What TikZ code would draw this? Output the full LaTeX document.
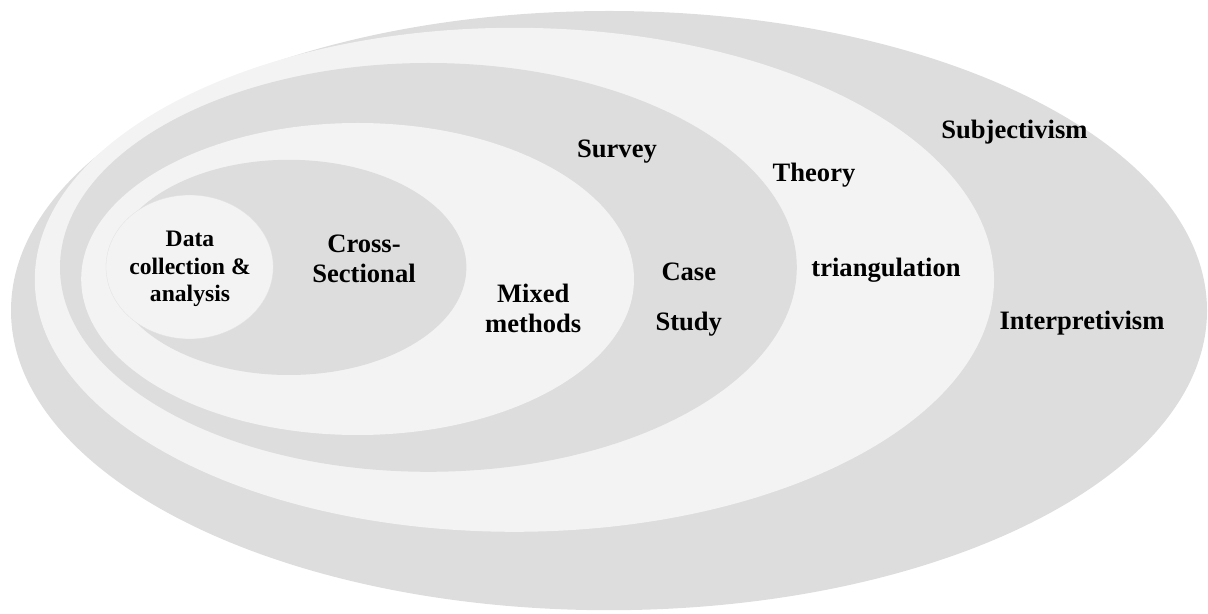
\documentclass[tikz,border=0pt]{standalone}
\usepackage{fontspec}
\setmainfont{Liberation Serif}
\usepackage{tikz}
\definecolor{ringdark}{HTML}{DDDDDD}
\definecolor{ringlight}{HTML}{F3F3F3}

\begin{document}
\begin{tikzpicture}[
	lbl/.style={font=\fontsize{18.9}{21.3}\selectfont\bfseries, inner sep=0pt, align=center},
	lblsmall/.style={font=\fontsize{16.8}{19.5}\selectfont\bfseries, inner sep=0pt, align=center}]
	%\draw[help lines] (0,0) grid (30,15);
	\useasboundingbox (0,0) rectangle (30.2,15.325);
	% rings, outside in
	\fill[ringdark] (15.225,7.56) circle [x radius=14.95, y radius=7.49];
	\fill[ringlight] (12.86,8.33) circle [x radius=11.99, y radius=6.3];
	\fill[ringdark] (10.71,8.64) circle [x radius=9.21, y radius=5.11];
	\fill[ringlight] (8.94,8.35) circle [x radius=6.91, y radius=3.9];
	\fill[ringdark] (7.22,8.64) circle [x radius=4.44, y radius=2.69];
	\filldraw[fill=ringlight, draw=black!12, very thin] (4.74,8.65) circle [x radius=2.09, y radius=1.8];
	% labels
	\node[lblsmall] (data) at (4.75,8.6) {Data\\collection \&\\analysis};
	\node[lbl] (cross) at (9.1,8.85) {Cross-\\Sectional};
	\node[lbl] (mixed) at (13.33,7.625) {Mixed\\methods};
	\node[lbl] (case) at (17.22,7.825) {Case\\[14.2pt]Study};
	\node[lbl, anchor=base] (survey) at (15.425,11.375) {Survey};
	\node[lbl, anchor=base] (theory) at (20.35,10.775) {Theory};
	\node[lbl, anchor=base] (triang) at (22.15,8.4) {triangulation};
	\node[lbl, anchor=base] (subj) at (25.36,11.85) {Subjectivism};
	\node[lbl, anchor=base] (interp) at (27.05,7.075) {Interpretivism};
\end{tikzpicture}
\end{document}
